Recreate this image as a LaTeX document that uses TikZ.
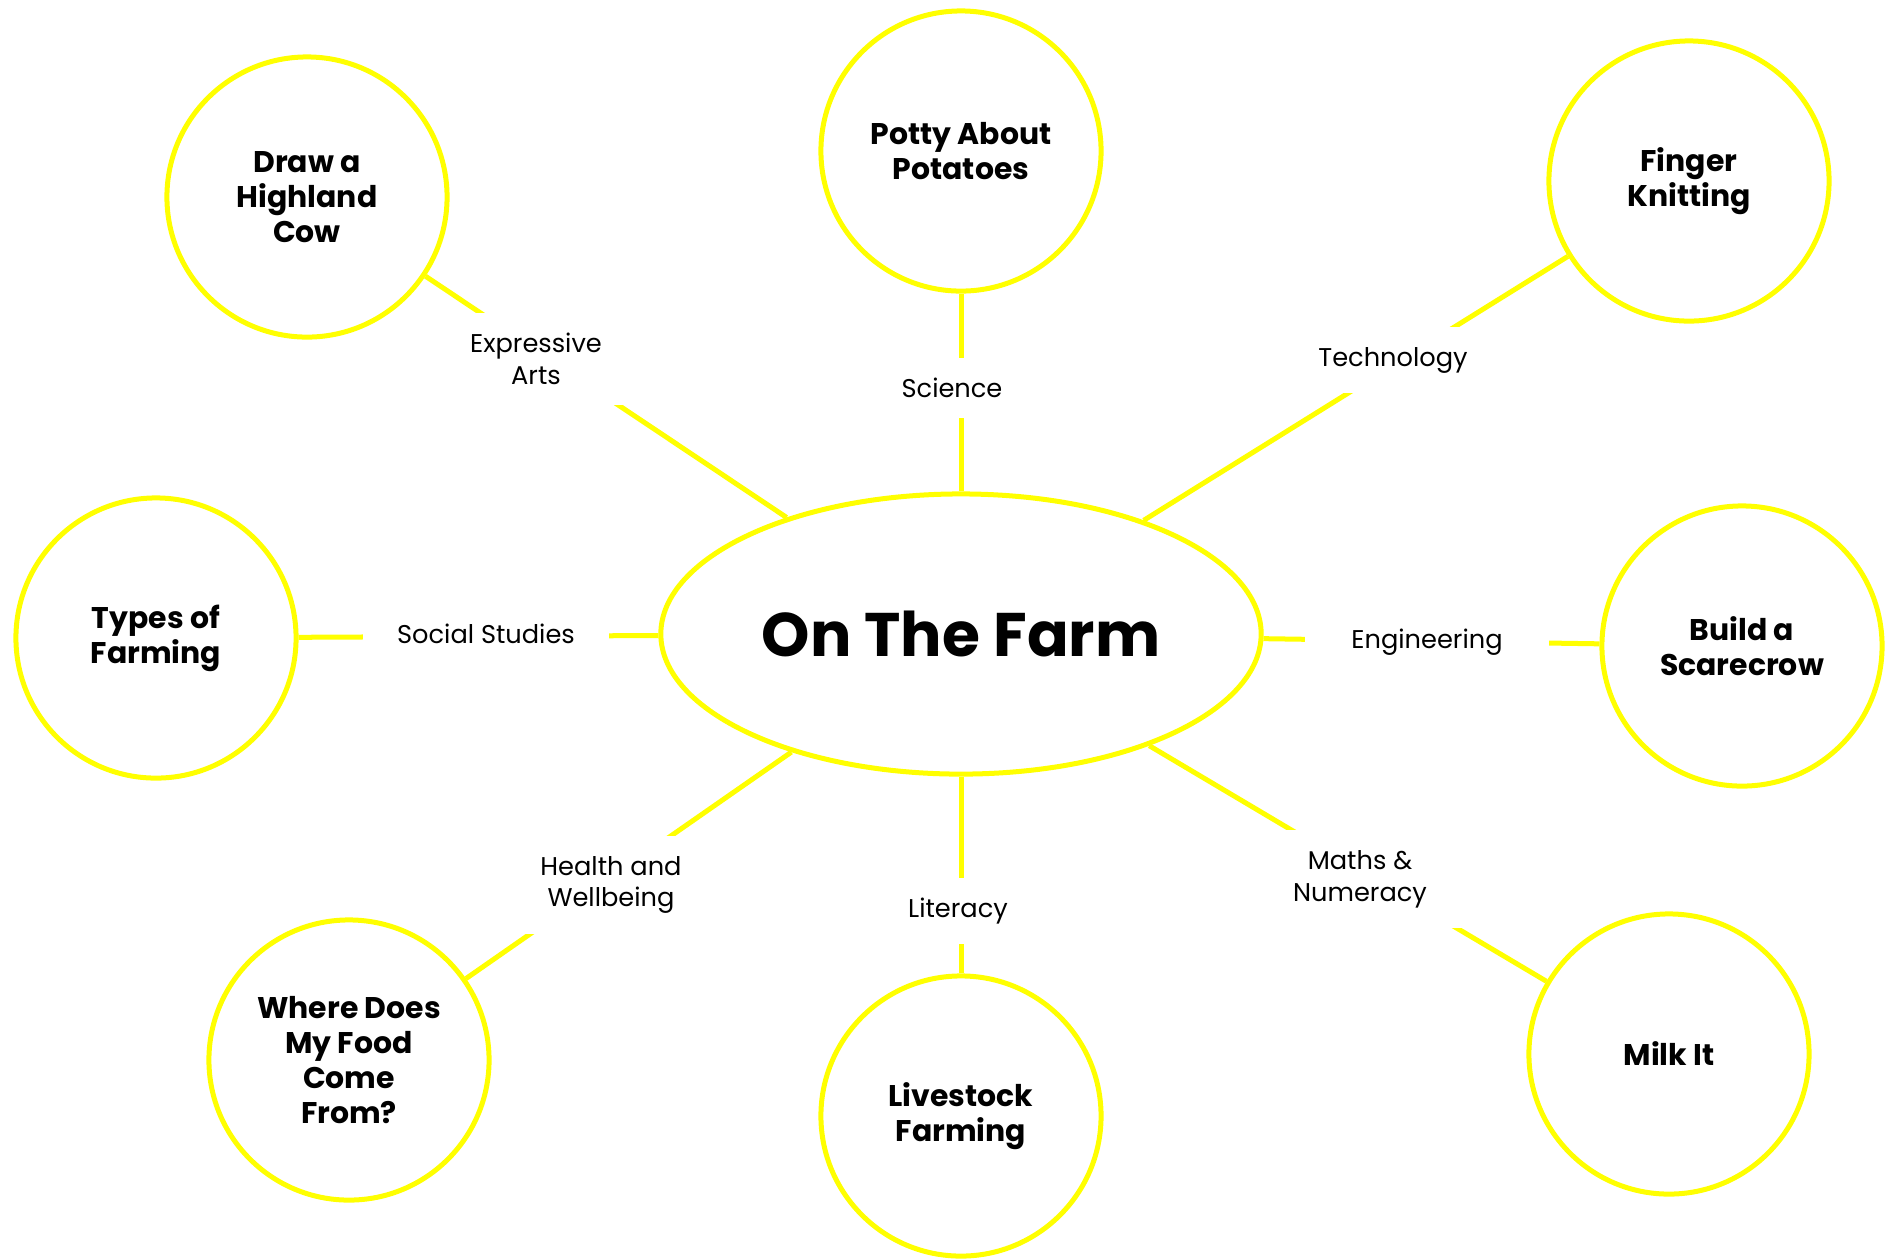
\documentclass[tikz,border=0pt]{standalone}
\usepackage{fontspec}
\setmainfont{Poppins}
\usetikzlibrary{shapes.geometric}
\definecolor{farmyellow}{RGB}{255,255,0}

\tikzset{
  link/.style={draw=farmyellow, line width=0.05cm},
  hub/.style={ellipse, draw=farmyellow, line width=0.05cm, inner sep=0pt,
    minimum width=6cm, minimum height=2.8cm, font=\fontsize{17.5}{21}\selectfont\bfseries},
  activity/.style={circle, draw=farmyellow, line width=0.05cm, minimum size=2.8cm,
    align=center, font=\fontsize{8.5}{10}\selectfont\bfseries},
  subject/.style={fill=white, align=center, inner xsep=0.4cm, inner ysep=0.2cm,
    font=\fontsize{7.3}{9}\selectfont}
}

\begin{document}
\begin{tikzpicture}[x=0.01cm, y=-0.01cm]
  \useasboundingbox (0,0) rectangle (1896,1259);

  % topic in the middle
  \node[hub] (farm) at (961,634) {On The Farm};

  % activities round it
  \node[activity] (cow) at (307,197) {Draw a\\Highland\\Cow};
  \node[activity] (potato) at (961,151) {Potty About\\Potatoes};
  \node[activity] (knit) at (1689,181) {Finger\\Knitting};
  \node[activity] (types) at (156,638) {Types of\\Farming};
  \node[activity] (scarecrow) at (1742,646) {Build a\\Scarecrow};
  \node[activity] (food) at (349,1060) {Where Does\\My Food\\Come\\From?};
  \node[activity] (livestock) at (961,1116) {Livestock\\Farming};
  \node[activity] (milk) at (1669,1054) {Milk It};

  \foreach \act in {cow,potato,knit,types,scarecrow,food,livestock,milk}
    \draw[link] (farm) -- (\act);

  % curriculum areas sit on the spokes
  \node[subject] (arts) at (536,359) {Expressive\\Arts};
  \node[subject] (science) at (952,388) {Science};
  \node[subject] (tech) at (1393,360) {Technology};
  \node[subject, inner xsep=0.34cm] (social) at (486,634) {Social Studies};
  \node[subject, inner xsep=0.46cm] (engineer) at (1427,642) {Engineering};
  \node[subject] (health) at (611,885) {Health and\\Wellbeing};
  \node[subject] (literacy) at (958,911) {Literacy};
  \node[subject] (maths) at (1360,879) {Maths \&\\Numeracy};
\end{tikzpicture}
\end{document}
